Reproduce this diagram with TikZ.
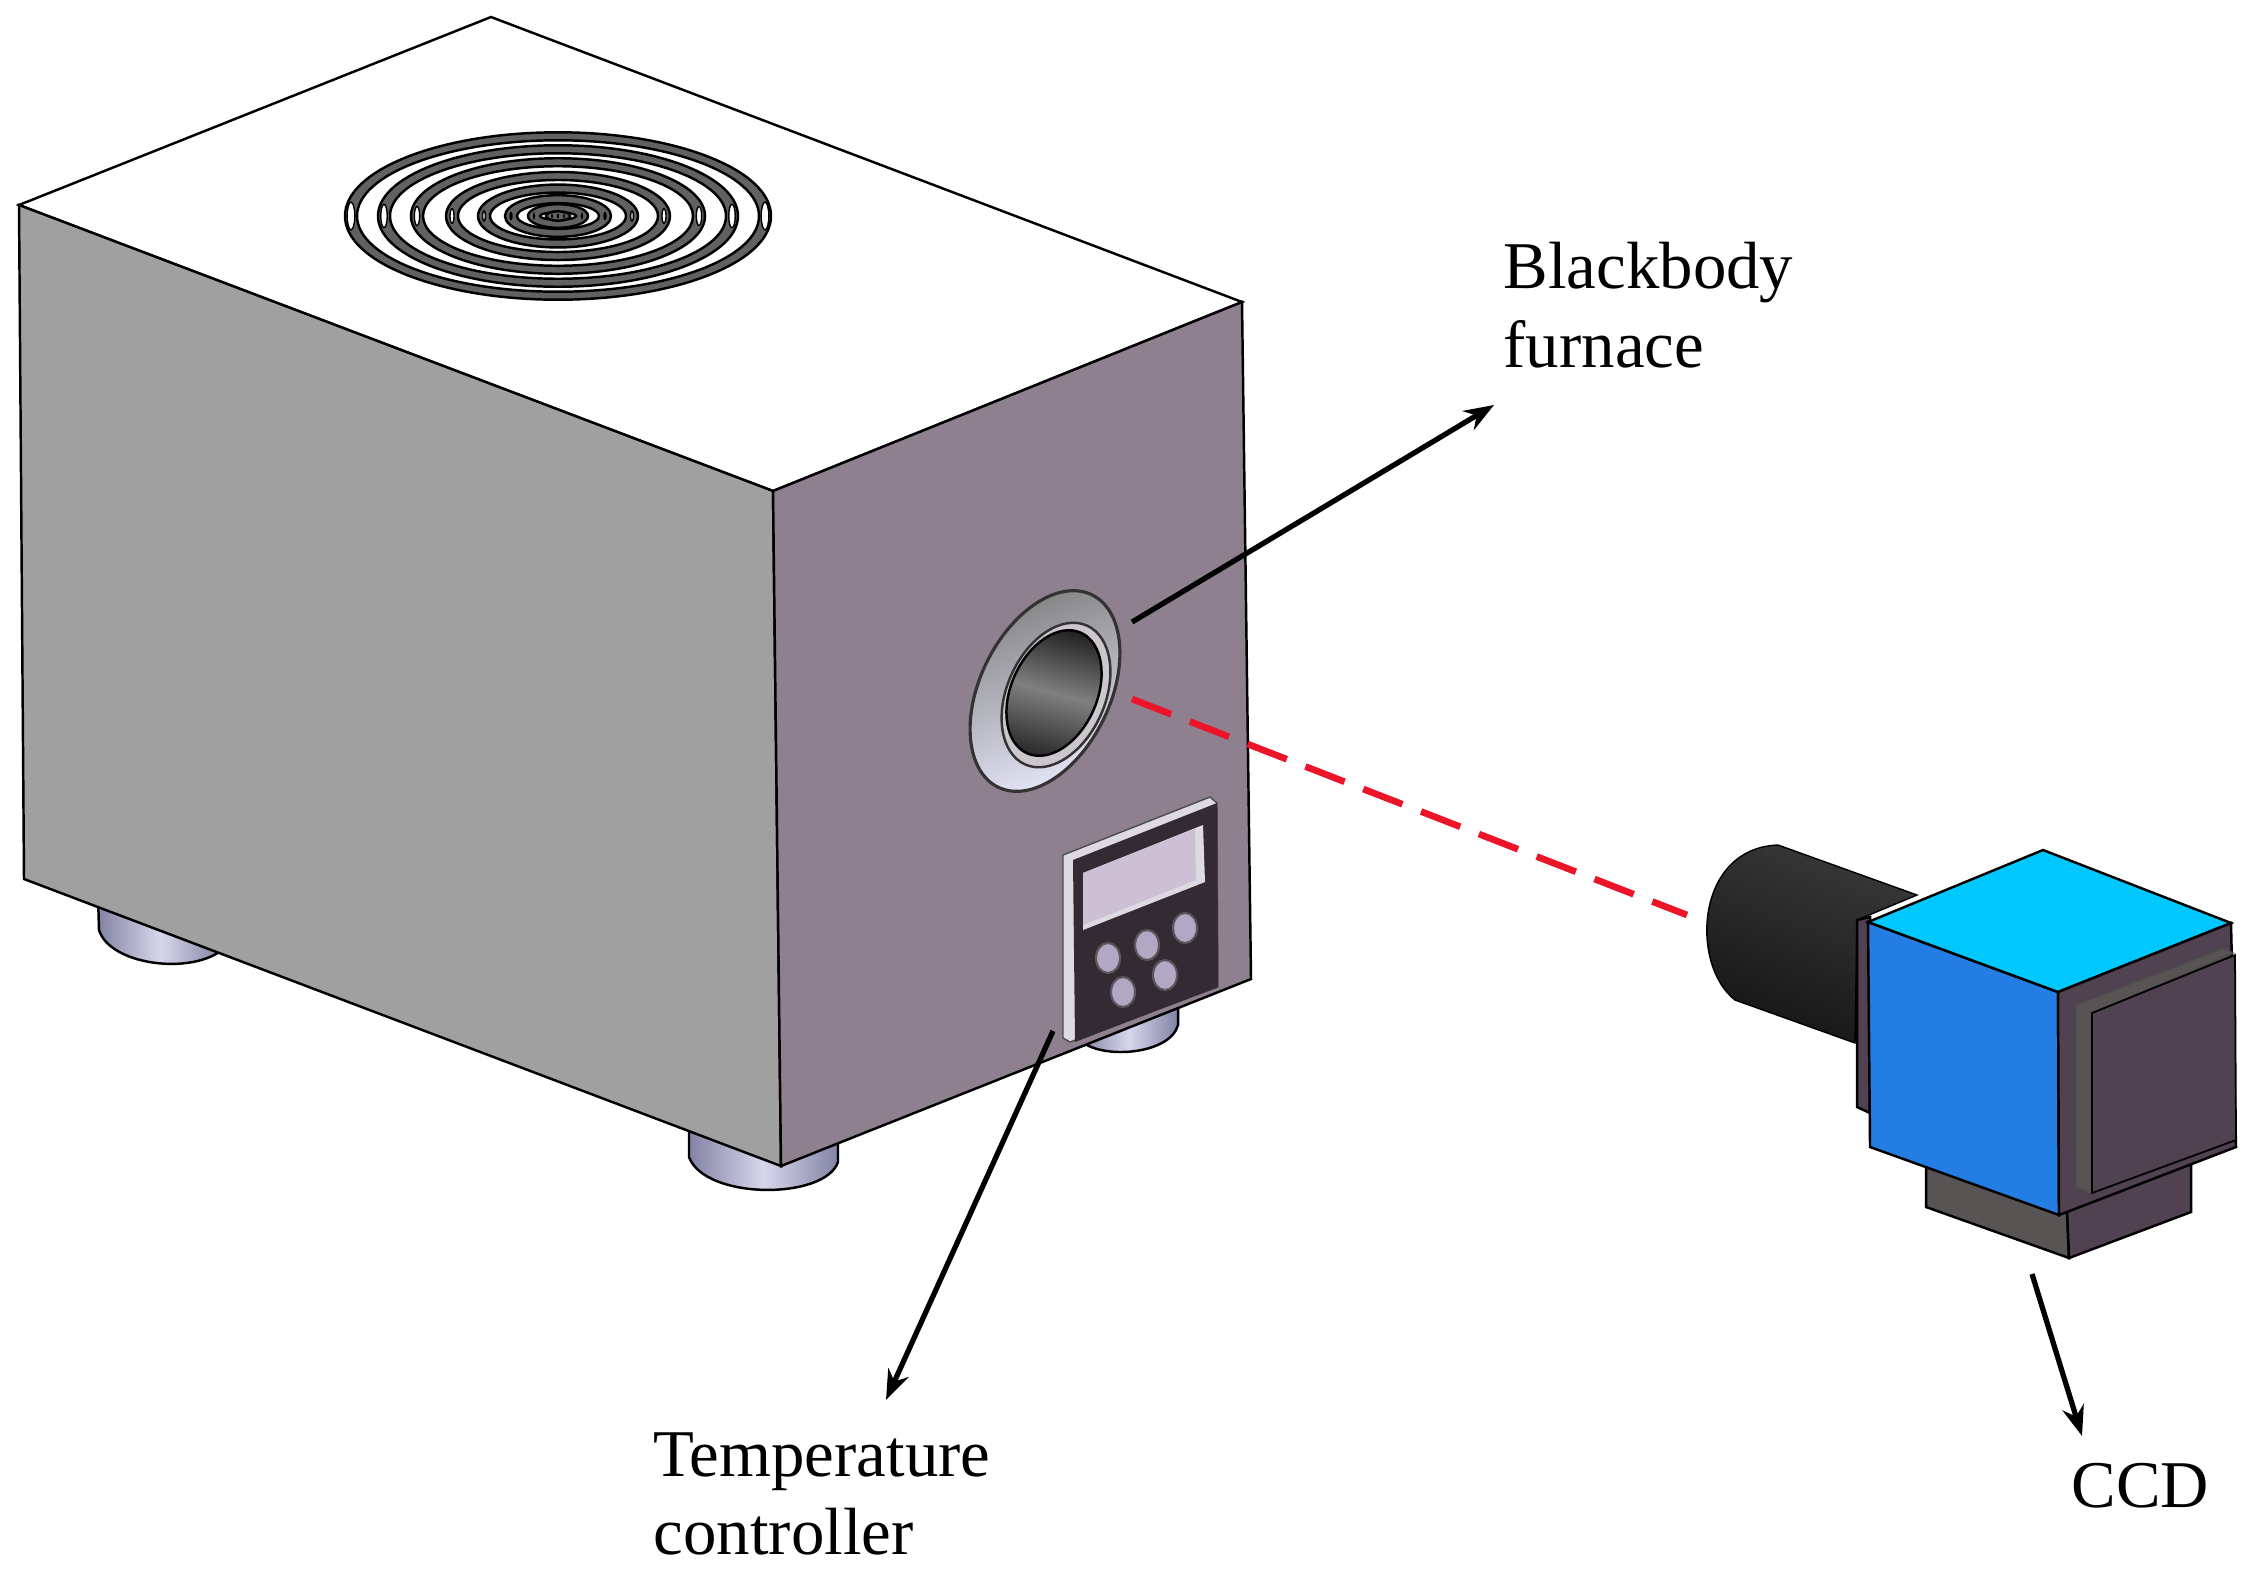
\documentclass[tikz,border=0pt]{standalone}
\usepackage{fontspec}
\setmainfont{Liberation Serif}
\usepackage{xcolor}
\usetikzlibrary{arrows.meta}
\definecolor{sidegray}{RGB}{160,160,160}
\definecolor{sidemauve}{RGB}{142,128,143}
\definecolor{panelink}{RGB}{52,42,52}
\definecolor{screenlilac}{RGB}{205,192,212}
\definecolor{bevellight}{RGB}{222,218,228}
\definecolor{buttonlilac}{RGB}{178,168,198}
\definecolor{camblue}{RGB}{36,125,226}
\definecolor{camcyan}{RGB}{0,200,255}
\definecolor{camdark}{RGB}{80,66,80}
\definecolor{camgray}{RGB}{88,84,84}
\definecolor{feetlight}{RGB}{215,215,235}
\definecolor{feetdark}{RGB}{130,130,165}
\definecolor{beamred}{RGB}{235,20,40}
\tikzset{
  edge/.style={draw=black,line width=0.7pt},
  labeltext/.style={font=\fontsize{19}{22.4}\selectfont,align=left,inner sep=0pt},
  pointer/.style={-{Stealth[length=0.3cm,width=0.22cm]},line width=1.5pt},
  knob/.style={fill=buttonlilac,draw=black!65,line width=0.6pt},
  foot/.style={left color=feetdark,right color=feetdark,middle color=feetlight,draw=black,line width=0.7pt}
}
\newcommand{\furnacering}[1]{
  \filldraw[fill=black!62,draw=black,line width=0.7pt] (558,216) ellipse ({#1} and {0.393*#1});
  \filldraw[fill=white,draw=black,line width=0.7pt] (558,216) ellipse ({#1-12} and {max(0.393*#1-8,2)});
  \filldraw[fill=white,draw=black,line width=0.4pt] ({558-#1+6},216) ellipse ({0.018*#1} and {0.065*#1});
  \filldraw[fill=white,draw=black,line width=0.4pt] ({558+#1-6},216) ellipse ({0.018*#1} and {0.065*#1});
}
\begin{document}
\begin{tikzpicture}[x=0.01cm,y=-0.01cm]
\useasboundingbox (0,0) rectangle (2252,1581);
% Feet
\shade[foot] (98,895) -- (99,930) .. controls (110,965) and (190,975) .. (222,950) -- (222,900) -- cycle;
\shade[foot] (689,1125) -- (689,1157) .. controls (705,1200) and (825,1200) .. (838,1162) -- (838,1135) -- cycle;
\shade[foot] (1080,1010) -- (1080,1040) .. controls (1100,1060) and (1170,1055) .. (1178,1025) -- (1178,1000) -- cycle;
% Furnace
\filldraw[fill=white,edge] (491,17) -- (19,205) -- (773,491) -- (1242,302) -- cycle; % Top
\filldraw[fill=sidegray,edge] (19,205) -- (773,491) -- (781,1166) -- (24,879) -- cycle; % Left
\filldraw[fill=sidemauve,edge] (773,491) -- (1242,302) -- (1251,979) -- (781,1166) -- cycle; % Right
% Rings
\furnacering{213}
\furnacering{180}
\furnacering{147}
\furnacering{112}
\furnacering{80}
\furnacering{53}
\furnacering{30}
\furnacering{12}
% Port
\shade[draw=black!80,line width=0.9pt,left color=black!50,right color=blue!8!white,shading angle=20,rotate around={64:(1045,691)}] (1045,691) ellipse (107 and 65); % Flange
\filldraw[fill=sidemauve!45!white,draw=black!80,line width=0.7pt,rotate around={66:(1056,695)}] (1056,695) ellipse (76 and 49);
\shade[draw=black,line width=0.7pt,top color=black!88,bottom color=black!85,middle color=black!50,shading angle=-15,rotate around={66:(1054,693)}] (1054,693) ellipse (66 and 43); % Hole
% Controller
\filldraw[fill=bevellight,draw=black!70,line width=0.4pt] (1063,855) -- (1210,797) -- (1217,803) -- (1218,987) -- (1070,1042) -- (1063,1038) -- cycle;
\fill[panelink] (1073,860) -- (1217,803) -- (1218,987) -- (1075,1042) -- cycle;
\fill[bevellight] (1083,873) -- (1203,825) -- (1205,882) -- (1083,930) -- cycle;
\fill[screenlilac] (1083,873) -- (1195,829) -- (1196,880) -- (1083,925) -- cycle; % Screen
\filldraw[knob] (1108,958) ellipse (12 and 15);
\filldraw[knob] (1147,945) ellipse (12 and 15);
\filldraw[knob] (1185,928) ellipse (12 and 15);
\filldraw[knob] (1123,992) ellipse (12 and 15);
\filldraw[knob] (1165,975) ellipse (12 and 15);
% Lens
\shade[top color=black!78,middle color=black!62,bottom color=black!92,shading angle=-21,draw=black,line width=0.4pt] (1778,845) -- (1917,895) -- (1857,920) -- (1855,1043) -- (1735,1000) .. controls (1690,965) and (1695,848) .. (1778,845) -- cycle;
\filldraw[fill=camdark,edge] (1857,920) -- (1870,917) -- (1870,1113) -- (1857,1107) -- cycle;
% Camera
\filldraw[fill=camgray,edge] (1926,1160) -- (1926,1207) -- (2069,1258) -- (2067,1210) -- cycle; % Base
\filldraw[fill=camdark,edge] (2067,1210) -- (2191,1160) -- (2191,1212) -- (2069,1258) -- cycle;
\filldraw[fill=camblue,edge] (1868,922) -- (2058,992) -- (2059,1215) -- (1870,1147) -- cycle; % Front
\filldraw[fill=camcyan,edge] (1868,922) -- (2043,850) -- (2231,923) -- (2058,992) -- cycle; % Top
\filldraw[fill=camdark,edge] (2058,992) -- (2231,923) -- (2236,1147) -- (2059,1215) -- cycle; % Side
\filldraw[fill=camgray,draw=black!70,line width=0.4pt] (2076,1005) -- (2224,948) -- (2233,953) -- (2092,1013) -- (2092,1193) -- (2076,1188) -- cycle;
\filldraw[fill=camdark,draw=black,line width=0.5pt] (2092,1013) -- (2235,955) -- (2236,1140) -- (2092,1193) -- cycle; % Panel
% Labels
\node[labeltext,anchor=west] (blackbody) at (1503,305) {Blackbody\\furnace};
\node[labeltext,anchor=west] (tempcontrol) at (653,1494) {Temperature\\controller};
\node[labeltext,anchor=west] (ccdlabel) at (2071,1486) {CCD};
% Arrows
\coordinate (portedge) at (1132,622);
\coordinate (bodyend) at (1494,405);
\coordinate (paneledge) at (1053,1031);
\coordinate (tempend) at (886,1400);
\coordinate (cambase) at (2032,1274);
\coordinate (ccdend) at (2082,1436);
\coordinate (beamstart) at (1132,699);
\coordinate (beamend) at (1687,915);
\draw[pointer] (portedge) -- (bodyend);
\draw[pointer] (paneledge) -- (tempend);
\draw[pointer] (cambase) -- (ccdend);
\draw[beamred,line width=1.9pt,dash pattern=on 0.42cm off 0.2cm] (beamstart) -- (beamend); % Beam
\end{tikzpicture}
\end{document}
